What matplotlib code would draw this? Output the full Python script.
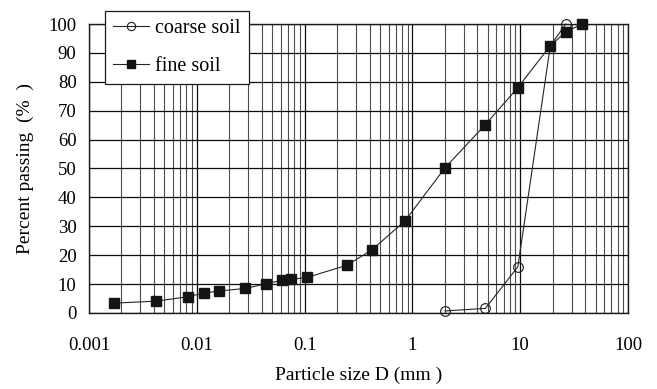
import numpy as np
import matplotlib
matplotlib.use("Agg")
import matplotlib.pyplot as plt
from matplotlib.ticker import LogLocator, FixedLocator, FixedFormatter, NullFormatter

plt.rcParams['font.family'] = ['Liberation Serif', 'DejaVu Serif']

# Grain size data (mm, % passing)
fine_size = [0.0017, 0.0042, 0.0082, 0.0116, 0.0161, 0.0282, 0.0438, 0.0617, 0.0743, 0.105,
             0.246, 0.419, 0.85, 2.0, 4.75, 9.5, 19.0, 26.5, 37.5]
fine_pass = [3.4, 4.1, 5.6, 6.9, 7.6, 8.5, 10.1, 11.3, 11.6, 12.3,
             16.5, 21.8, 31.8, 50.2, 65.2, 78.0, 92.5, 97.3, 100.0]

coarse_size = [2.0, 4.75, 9.5, 19.0, 26.5]
coarse_pass = [0.7, 1.6, 16.0, 92.5, 100.0]

x_ticks = [0.001, 0.01, 0.1, 1, 10, 100]
x_tick_labels = ['0.001', '0.01', '0.1', '1', '10', '100']
y_ticks = np.arange(0, 101, 10)

fig = plt.figure(figsize=(6.57, 3.89), dpi=100)
ax = fig.add_axes([0.1355, 0.1954, 0.8205, 0.7429])

ax.plot(coarse_size, coarse_pass, color='0.15', lw=0.8, marker='o', ms=7,
        mfc='none', mec='0.1', mew=0.8, label='coarse soil', clip_on=False, zorder=3)
ax.plot(fine_size, fine_pass, color='0.15', lw=0.8, marker='s', ms=6.5,
        mfc='0.08', mec='0.08', label='fine soil', clip_on=False, zorder=4)

ax.set_xscale('log')
ax.set_xlim(0.001, 100)
ax.set_ylim(0, 100)

ax.xaxis.set_major_locator(FixedLocator(x_ticks))
ax.xaxis.set_major_formatter(FixedFormatter(x_tick_labels))
ax.xaxis.set_minor_locator(LogLocator(base=10, subs=np.arange(2, 10)))
ax.xaxis.set_minor_formatter(NullFormatter())
ax.set_yticks(y_ticks)

ax.grid(which='major', axis='both', color='0.05', lw=0.9)
ax.grid(which='minor', axis='x', color='0.3', lw=0.8)
ax.set_axisbelow(True)

ax.tick_params(which='both', length=0)
ax.tick_params(axis='x', pad=17, labelsize=13.5)
ax.tick_params(axis='y', pad=9, labelsize=13.5)
for s in ax.spines.values():
    s.set_linewidth(1.0)
    s.set_color('0.1')

fig.text(0.038, 0.568, 'Percent passing  (%  )', rotation=90, ha='center', va='center', fontsize=14)
fig.text(0.546, 0.036, 'Particle size D (mm )', ha='center', va='center', fontsize=14)

leg = ax.legend(loc='upper left', bbox_to_anchor=(0.160, 0.972), bbox_transform=fig.transFigure,
                borderaxespad=0, fancybox=False, framealpha=1, edgecolor='0.1',
                fontsize=14.5, handlelength=1.8, handletextpad=0.3, borderpad=0.4,
                labelspacing=0.95, markerscale=0.85)
leg.get_frame().set_linewidth(0.9)

fig.savefig('out.png', dpi=100)
